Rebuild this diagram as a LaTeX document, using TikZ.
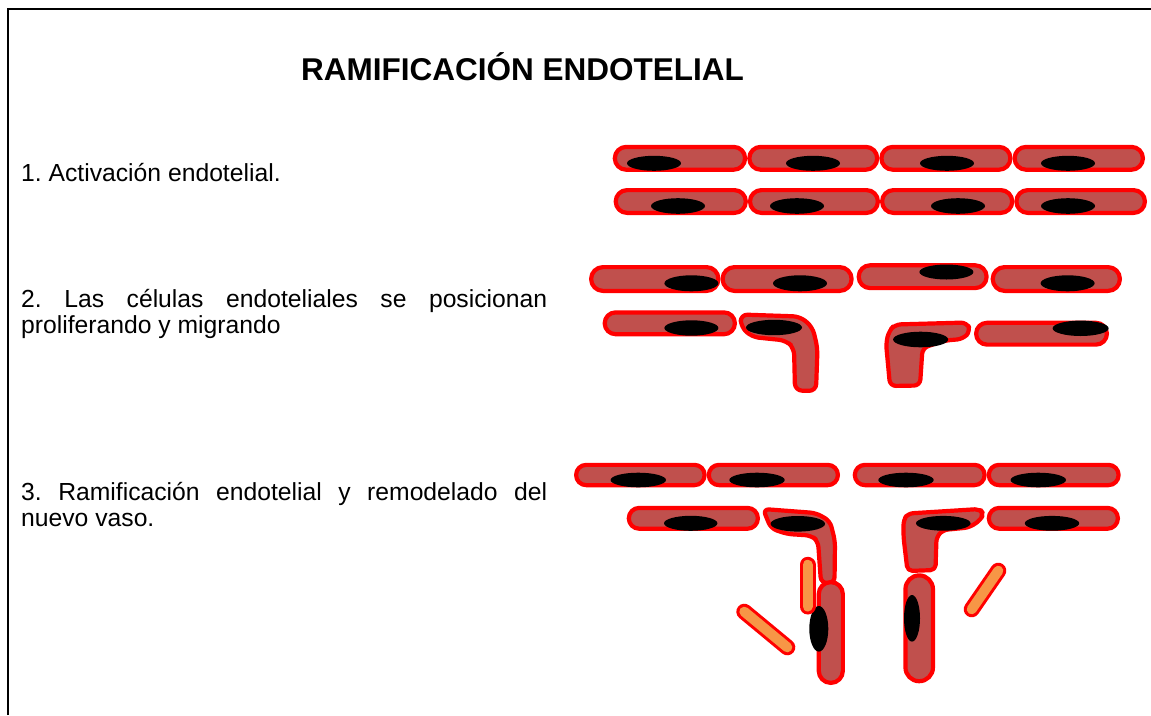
\documentclass[tikz,border=0pt]{standalone}
\usepackage{fontspec}
\setmainfont{Liberation Sans}
\frenchspacing
\definecolor{cellfill}{RGB}{192,80,77}
\definecolor{cellline}{RGB}{255,0,0}
\definecolor{rodfill}{RGB}{247,150,70}
\tikzset{
  cell/.style={fill=cellfill, draw=cellline, line width=4.2pt, line join=round},
  nucleus/.style={fill=black, draw=none},
  rodline/.style={draw=cellline, line width=16pt, line cap=round},
  rodcore/.style={draw=rodfill, line width=10pt, line cap=round},
  label/.style={anchor=base west, inner sep=0pt, font=\fontsize{24.7}{26}\selectfont},
}
% horizontal pill-shaped cell: outer left x, outer right x, centre y, outer height
\newcommand{\hcell}[4]{%
  \pgfmathsetmacro{\pxa}{#1+2.1}\pgfmathsetmacro{\pxb}{#2-2.1}%
  \pgfmathsetmacro{\pyt}{#3-#4/2+2.1}\pgfmathsetmacro{\pyb}{#3+#4/2-2.1}%
  \pgfmathsetmacro{\prad}{#4/2-2.15}%
  \draw[cell, rounded corners=\prad pt] (\pxa,\pyt) rectangle (\pxb,\pyb);}
% vertical pill-shaped cell: centre x, outer width, outer top y, outer bottom y
\newcommand{\vcell}[4]{%
  \pgfmathsetmacro{\pxa}{#1-#2/2+2.1}\pgfmathsetmacro{\pxb}{#1+#2/2-2.1}%
  \pgfmathsetmacro{\pyt}{#3+2.1}\pgfmathsetmacro{\pyb}{#4-2.1}%
  \pgfmathsetmacro{\prad}{#2/2-2.15}%
  \draw[cell, rounded corners=\prad pt] (\pxa,\pyt) rectangle (\pxb,\pyb);}
% nucleus: centre x, centre y, x radius, y radius
\newcommand{\nuc}[4]{\fill[nucleus] (#1,#2) ellipse [x radius=#3, y radius=#4];}
\begin{document}
\begin{tikzpicture}[x=1pt, y=-1pt]
\useasboundingbox (0,0) rectangle (1151,715);
% frame
\draw[line width=2pt] (7.7,715) -- (7.7,9.2) -- (1151,9.2);

% title and captions
\node[anchor=base, inner sep=0pt, font=\fontsize{31.5}{34}\selectfont\bfseries] (title) at (522.5,80) {RAMIFICACIÓN ENDOTELIAL};
\node[label] (t1) at (21,181.7) {1. Activación endotelial.};
\node[label] (t2a) at (21,307.7) {\makebox[526pt][s]{2. Las células endoteliales se posicionan}};
\node[label] (t2b) at (21,333.7) {proliferando y migrando};
\node[label] (t3a) at (21,500) {\makebox[526pt][s]{3. Ramificación endotelial y remodelado del}};
\node[label] (t3b) at (21,526) {nuevo vaso.};

% ---- stage 1: resting vessel wall ----
\hcell{612.7}{747.2}{158.3}{27} \hcell{747.2}{879.3}{158.3}{27}
\hcell{879.3}{1012.5}{158.3}{27} \hcell{1012.5}{1145}{158.3}{27}
\nuc{654}{163.3}{27}{7.5} \nuc{813}{163.3}{27}{7.5}
\nuc{947}{163.3}{27}{7.5} \nuc{1068}{163.3}{27}{7.5}
\hcell{613.6}{747.9}{201.5}{27} \hcell{747.9}{880}{201.5}{27}
\hcell{880}{1014.3}{201.5}{27} \hcell{1014.3}{1147}{201.5}{27}
\nuc{678}{206}{27}{7.8} \nuc{797}{206}{27}{7.8}
\nuc{958}{206}{27}{7.8} \nuc{1068}{206}{27}{7.8}

% ---- stage 2: proliferation and migration ----
\hcell{589}{720.5}{279}{28} \hcell{720.5}{853.7}{279}{28}
\hcell{856.6}{988.7}{276.7}{27} \hcell{990.6}{1122}{279}{28}
\nuc{691.4}{283.3}{27}{8} \nuc{800}{283.3}{27}{8}
\nuc{946.4}{272}{27}{7.5} \nuc{1067.6}{283.3}{27}{8}
\hcell{602.6}{737}{323.3}{26}
\nuc{691.4}{328}{27}{7.7}
% left tip cell turning downwards
\draw[cell, rounded corners=7pt] (740.5,314.5) -- (800,316.5) -- (812.5,327) -- (817.5,348)
  -- (816,391) -- (795,390.5) -- (794,348) -- (786,340.5) -- (752,337) -- (741,327) -- cycle;
\nuc{774}{327.5}{28}{7.7}
% right tip cell turning downwards
\draw[cell, rounded corners=6pt] (895,324.5) -- (967,322.5) -- (970.5,331) -- (963,339)
  -- (945,340.5) -- (922.5,348) -- (920,385.5) -- (890,386) -- (886,343) -- (889,331) -- cycle;
\nuc{920.6}{339.5}{27.5}{7.8}
\hcell{974}{1109}{333.7}{26}
\nuc{1080.6}{328.3}{28}{7.7}

% ---- stage 3: branching and remodelling ----
\hcell{574}{706.7}{475}{24.5} \hcell{706.7}{840}{475}{24.5}
\hcell{852.7}{986.7}{475}{24.5} \hcell{986.7}{1120.7}{475}{24.5}
\nuc{638.3}{480}{27.7}{7.3} \nuc{757}{480}{27.7}{7.3}
\nuc{906}{480}{27.7}{7.3} \nuc{1038.3}{480}{27.7}{7.3}
\hcell{626.7}{760}{518.3}{25}
\nuc{690.7}{523.3}{26.7}{7.5}
% left branch
\draw[cell, rounded corners=6pt] (763,509) -- (816,513) -- (830,521) -- (835,541)
  -- (834.5,583) -- (821,583) -- (818,541) -- (811,535.5) -- (787,534) -- (771,528.5) -- cycle;
\nuc{797.8}{523.8}{27.2}{7.8}
\vcell{830.8}{28.3}{580}{685}
\nuc{818.8}{628.8}{9.5}{22.8}
% right branch
\draw[cell, rounded corners=5pt] (908,513.5) -- (980,509) -- (983.5,514) -- (980,520.5)
  -- (969,527.5) -- (943,530) -- (936.5,537) -- (935.5,570) -- (907.5,571) -- (903.5,537)
  -- (903.5,520) -- cycle;
\nuc{943.3}{523.3}{27.3}{7.4}
\hcell{986.7}{1120}{518.3}{25}
\nuc{1052}{523.3}{27.2}{7.4}
\vcell{919.2}{31.7}{573.3}{683.3}
\nuc{912}{618.3}{8}{23.3}

% pericyte-like rods around the new branch
\draw[rodline] (807.5,564.8) -- (807.5,606.5);
\draw[rodcore] (807.5,564.8) -- (807.5,606.5);
\draw[rodline] (744.3,611.7) -- (787.3,647.3);
\draw[rodcore] (744.3,611.7) -- (787.3,647.3);
\draw[rodline] (971.7,609.3) -- (998.3,570.7);
\draw[rodcore] (971.7,609.3) -- (998.3,570.7);
\end{tikzpicture}
\end{document}
